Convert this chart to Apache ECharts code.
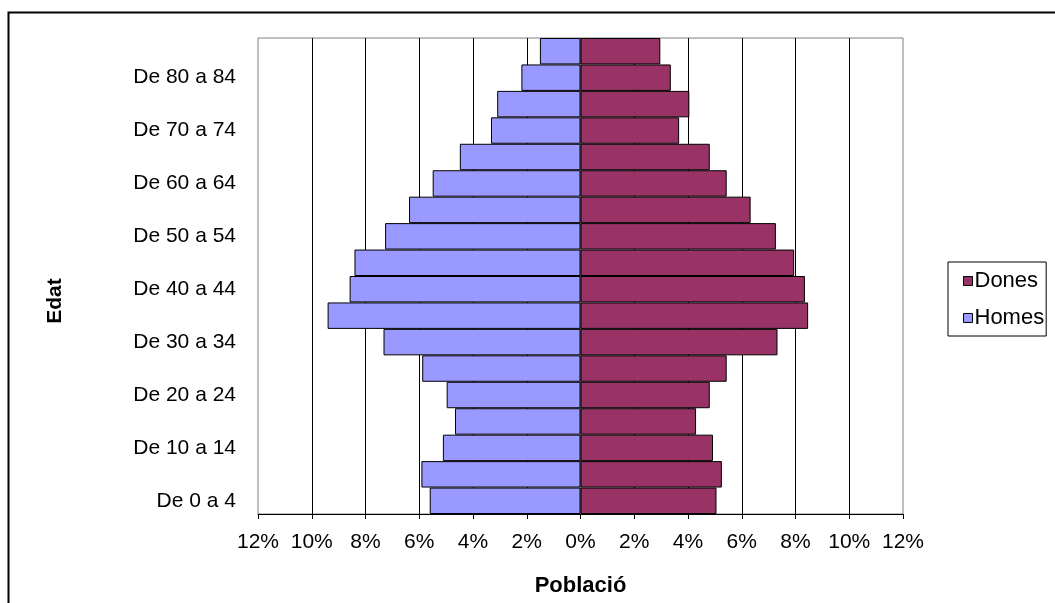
<!DOCTYPE html>
<html><head><meta charset="utf-8">
<script src="https://cdn.jsdelivr.net/npm/echarts@6/dist/echarts.min.js"></script>
<style>html,body{margin:0;padding:0;background:#fff}#c{width:1055px;height:603px}</style>
</head><body><div id="c"></div>
<script>
const categories = ["De 0 a 4","De 5 a 9","De 10 a 14","De 15 a 19","De 20 a 24","De 25 a 29","De 30 a 34","De 35 a 39","De 40 a 44","De 45 a 49","De 50 a 54","De 55 a 59","De 60 a 64","De 65 a 69","De 70 a 74","De 75 a 79","De 80 a 84","De 85 i més"];
const homes = [5.61,5.92,5.12,4.67,4.98,5.89,7.33,9.41,8.59,8.41,7.27,6.38,5.50,4.49,3.33,3.10,2.20,1.51];
const dones = [5.06,5.26,4.93,4.30,4.81,5.44,7.33,8.47,8.35,7.95,7.27,6.33,5.44,4.81,3.67,4.05,3.36,2.97];
const xTicks = {min:-12, max:12, interval:2};
const yTitle = 'Edat';

const chart = echarts.init(document.getElementById('c'), null, {renderer:'canvas'});
const font = "'Liberation Sans', Arial, sans-serif";
chart.setOption({
  animation:false,
  textStyle:{fontFamily:font},
  graphic:[
    {type:'rect', shape:{x:8.5,y:12.5,width:1100,height:700}, style:{fill:'none', stroke:'#000', lineWidth:2}, z:-1},
    {type:'text', x:55, y:301, rotation:Math.PI/2, style:{text:yTitle, align:'center', verticalAlign:'middle', fill:'#000', font:"bold 21px 'Liberation Sans', Arial, sans-serif"}}
  ],
  grid:{left:258, right:152, top:38, bottom:89, show:true, borderColor:'#808080', borderWidth:1, backgroundColor:'#fff'},
  legend:{
    data:['Dones','Homes'], orient:'vertical', left:948, top:262,
    padding:[8,2,7,15], itemGap:15, itemWidth:9, itemHeight:9,
    borderColor:'#000', borderWidth:1, backgroundColor:'#fff',
    icon:'rect', itemStyle:{borderColor:'#000', borderWidth:1},
    textStyle:{fontSize:22, lineHeight:22, color:'#000', fontFamily:font, padding:[0,0,0,-3]}
  },
  xAxis:{
    type:'value', min:xTicks.min, max:xTicks.max, interval:xTicks.interval,
    name:'Població', nameLocation:'middle', nameGap:61,
    nameTextStyle:{fontSize:22, fontWeight:'bold', color:'#000', fontFamily:font},
    axisLine:{show:true, lineStyle:{color:'#000', width:1}},
    axisTick:{show:true, length:5, lineStyle:{color:'#000'}},
    axisLabel:{fontSize:21, color:'#000', margin:18, fontFamily:font, formatter:v=>Math.abs(v)+'%'},
    splitLine:{show:true, showMinLine:false, showMaxLine:false, lineStyle:{color:'#000', width:1}}
  },
  yAxis:{
    type:'category', data:categories,
    axisLine:{show:true, lineStyle:{color:'#808080'}},
    axisTick:{show:false},
    axisLabel:{interval:1, fontSize:21, color:'#000', margin:22, fontFamily:font},
    splitLine:{show:false}
  },
  series:[
    {name:'Dones', type:'bar', stack:'p', barCategoryGap:0, data:dones,
     itemStyle:{color:'#993366', borderColor:'#000', borderWidth:1}},
    {name:'Homes', type:'bar', stack:'p', barCategoryGap:0, data:homes.map(v=>-v),
     itemStyle:{color:'#9999FF', borderColor:'#000', borderWidth:1}}
  ]
});
</script></body></html>
